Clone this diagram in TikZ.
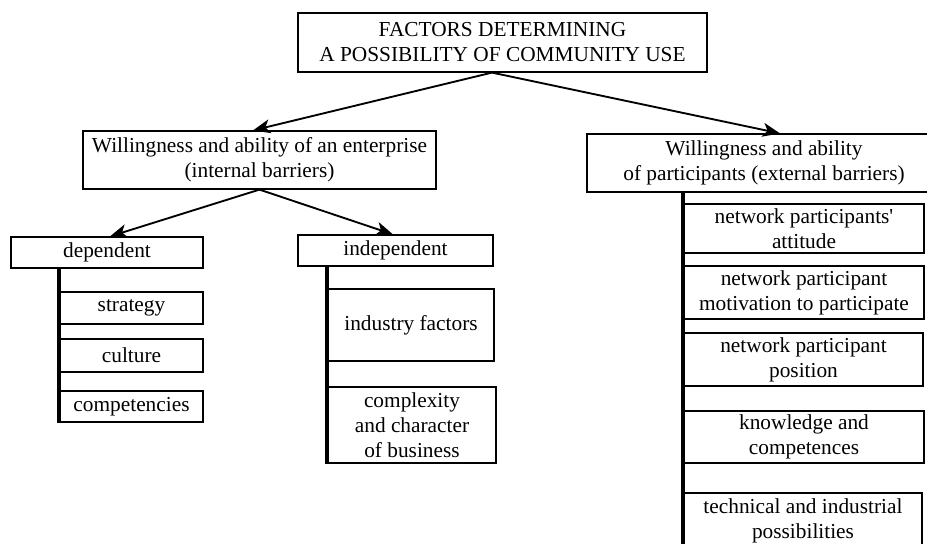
\documentclass[tikz,border=0pt]{standalone}
\usepackage{fontspec}
\newfontfamily\treefont{Liberation Serif}
\usetikzlibrary{arrows.meta,calc}
\newcommand\placebox[6]{\node[box, minimum width={(#4-#2)*0.75pt}, minimum height={(#5-#3)*0.75pt}] (#1) at ({(#2+#4)/2},{(#3+#5)/2}) {#6};}
\begin{document}
\begin{tikzpicture}[x=0.75pt,y=-0.75pt,
  box/.style={draw, line width=0.9pt, inner sep=0pt, align=center, font=\treefont\fontsize{16}{18.75}\selectfont},
  arr/.style={line width=1.4pt, -{Stealth[length=13pt,width=10.5pt,inset=3.5pt]}},
  bar/.style={line width=3pt}]
\useasboundingbox (0,0) rectangle (927,543);
\placebox{top}{298}{13}{707}{72}{FACTORS DETERMINING\\A POSSIBILITY OF COMMUNITY USE}
\placebox{L}{83}{131}{436}{189}{Willingness and ability of an enterprise\\(internal barriers)}
\placebox{R}{587}{134}{941}{192}{Willingness and ability\\of participants (external barriers)}
\placebox{dep}{11}{237}{203}{268}{dependent}
\placebox{ind}{298}{235}{493}{266}{independent}
\placebox{strat}{60}{292}{203}{324}{strategy}
\placebox{cult}{60}{339}{203}{372}{culture}
\placebox{comp}{60}{391}{203}{422}{competencies}
\placebox{indf}{328}{289}{494}{361}{industry factors}
\placebox{cplx}{328}{387}{496}{463}{complexity\\and character\\of business}
\placebox{att}{684}{204}{924}{253}{network participants'\\attitude}
\placebox{mot}{684}{266}{924}{319}{network participant\\motivation to participate}
\placebox{pos}{684}{333}{923}{386}{network participant\\position}
\placebox{know}{684}{411}{924}{463}{knowledge and\\competences}
\placebox{tech}{684}{493}{922}{549}{technical and industrial\\possibilities}
\coordinate (topout) at ($(top.south)+(-10.5,0)$);
\draw[arr] (topout) -- ($(L.north)+(-6.5,0)$);
\draw[arr] (topout) -- ($(R.north)+(16,0)$);
\draw[arr] (L.south) -- ($(dep.north)+(3,0)$);
\draw[arr] (L.south) -- ($(ind.north)+(-2.5,0)$);
\draw[bar] (dep.south -| comp.west) -- (comp.south west);
\draw[bar] (ind.south -| cplx.west) -- (cplx.south west);
\draw[bar] (R.south -| att.west) -- (tech.south west);
\end{tikzpicture}
\end{document}
